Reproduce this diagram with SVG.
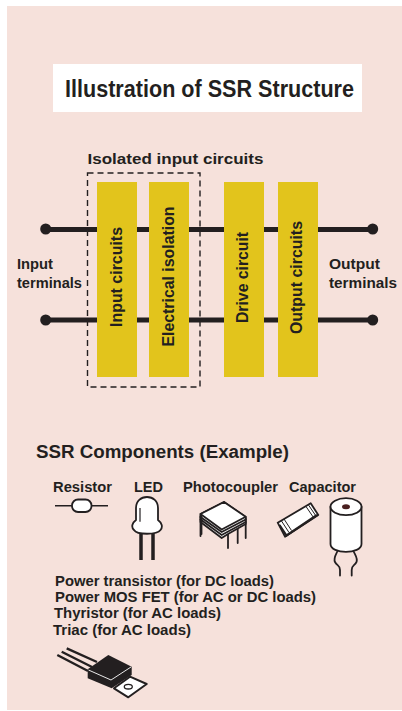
<svg xmlns="http://www.w3.org/2000/svg" width="402" height="711" viewBox="0 0 402 711">
<style>
text{font-family:"Liberation Sans",Arial,sans-serif;font-weight:bold;fill:#231f20}
.l{font-size:15.500px}
.v{font-size:16px;text-anchor:middle}
.b{fill:#e2c41c}
.w{stroke:#231f20;stroke-width:5;fill:none}
.o{fill:#fff;stroke:#231f20;stroke-width:1.800;stroke-linejoin:round}
.k{fill:none;stroke:#231f20;stroke-width:1.800;stroke-linecap:round}
.s{font-size:14.500px}
</style>
<rect x="0" y="0" width="402" height="711" fill="#fff"/>
<rect x="7" y="6" width="395" height="704" fill="#f6e1db"/>
<g id="title"><rect x="53" y="64" width="309" height="48" fill="#fff"/>
<text x="65" y="97" font-size="23.500" textLength="289" lengthAdjust="spacingAndGlyphs">Illustration of SSR Structure</text></g>
<g id="connectors">
<path class="w" d="M46 229.500H373M46 320H373"/>
<circle cx="45.700" cy="229" r="5.500" fill="#231f20"/><circle cx="45.700" cy="320" r="5.500" fill="#231f20"/>
<circle cx="372.700" cy="229" r="5.500" fill="#231f20"/><circle cx="372.700" cy="320" r="5.500" fill="#231f20"/>
</g>
<g id="isolated-group"><rect x="87.500" y="173" width="112.500" height="214" fill="none" stroke="#231f20" stroke-width="1.400" stroke-dasharray="6 4"/>
<text x="87.500" y="164" font-size="15.500" textLength="176" lengthAdjust="spacingAndGlyphs">Isolated input circuits</text></g>
<g id="input-circuits"><rect class="b" x="97" y="182" width="40" height="195"/><text class="v" transform="translate(121.500,277) rotate(-90)" textLength="100" lengthAdjust="spacingAndGlyphs">Input circuits</text></g>
<g id="electrical-isolation"><rect class="b" x="149" y="182" width="40" height="195"/><text class="v" transform="translate(173.500,276.500) rotate(-90)" textLength="140" lengthAdjust="spacingAndGlyphs">Electrical isolation</text></g>
<g id="drive-circuit"><rect class="b" x="224" y="182" width="40" height="195"/><text class="v" transform="translate(247.500,277.500) rotate(-90)" textLength="91" lengthAdjust="spacingAndGlyphs">Drive circuit</text></g>
<g id="output-circuits"><rect class="b" x="278" y="182" width="40" height="195"/><text class="v" transform="translate(301.500,277.500) rotate(-90)" textLength="113" lengthAdjust="spacingAndGlyphs">Output circuits</text></g>
<g id="input-terminals"><text class="l" x="17" y="269" textLength="36" lengthAdjust="spacingAndGlyphs">Input</text><text class="l" x="17" y="288" textLength="65" lengthAdjust="spacingAndGlyphs">terminals</text></g>
<g id="output-terminals"><text class="l" x="329" y="269" textLength="51" lengthAdjust="spacingAndGlyphs">Output</text><text class="l" x="329" y="288" textLength="68" lengthAdjust="spacingAndGlyphs">terminals</text></g>
<text x="36" y="458" font-size="18" textLength="253" lengthAdjust="spacingAndGlyphs">SSR Components (Example)</text>
<g id="resistor"><text class="s" x="53" y="492" textLength="59" lengthAdjust="spacingAndGlyphs">Resistor</text>
<path d="M55 505.700H108" stroke="#231f20" stroke-width="1.500"/><rect class="o" x="72" y="499.500" width="19.500" height="12.500" rx="6"/></g>
<g id="led"><text class="s" x="134" y="492" textLength="29" lengthAdjust="spacingAndGlyphs">LED</text>
<path d="M141 533V560M153 533V560" stroke="#231f20" stroke-width="3.500" fill="none"/>
<path class="o" d="M136 520V508C136 501 141 497 147 497C153 497 158 501 158 508V520C162 523 163 527 160.500 530C157 535 137 535 134 530C131 527 132 523 136 520Z"/>
<path d="M140 508V521.700" stroke="#231f20" stroke-width="1.200"/></g>
<g id="photocoupler"><text class="s" x="183" y="492" textLength="95" lengthAdjust="spacingAndGlyphs">Photocoupler</text>
<path class="k" d="M200.500 516V536M228 528V548M237.700 522V543M245.700 518V538" stroke-width="1.800"/>
<path class="o" d="M200.500 514V522L221.700 538L228 534L245.700 524V517L224 502Z"/>
<path class="k" d="M200.500 517L221.700 532L245.700 519.500M200.500 519.500L221.700 535L245.700 522" stroke-width="1.200"/>
<path class="k" d="M201.500 515V534" stroke-width="1.500"/>
<path class="o" d="M200.500 514L224 502L245.700 516.700L221.700 529.500Z"/></g>
<g id="capacitor-chip"><text class="s" x="289" y="492" textLength="67" lengthAdjust="spacingAndGlyphs">Capacitor</text>
<path class="o" d="M277.700 522.700L310.700 503.300L318.300 515L285 536.700Z" stroke-width="2.400"/>
<path d="M279.500 525L286.500 535.500L317 515" fill="none" stroke="#231f20" stroke-width="2.200"/>
<path d="M281.500 521L289 532.500M284 519L291.500 530.500M306 506.500L313.500 517.500M308.500 505L316 516" fill="none" stroke="#231f20" stroke-width="1"/></g>
<g id="capacitor"><path class="k" d="M338 550C336 555 333 558 335 562C337 566 340 565 340 570V575.500M353 550C355 555 358 558 356.500 562C354.500 566 351.700 565 351.700 570V575.500" stroke-width="2"/>
<path class="o" d="M330.500 506.700V544C330.500 554.500 361.500 554.500 361.500 544V506.700Z" stroke-width="2"/>
<ellipse class="o" cx="346" cy="506.700" rx="15.500" ry="8.500" stroke-width="2"/>
<ellipse cx="346" cy="506.700" rx="4" ry="2.500" fill="#4a1f1f"/></g>
<g id="semiconductors">
<text class="s" x="55" y="586" textLength="219" lengthAdjust="spacingAndGlyphs">Power transistor (for DC loads)</text>
<text class="s" x="55" y="602" textLength="261" lengthAdjust="spacingAndGlyphs">Power MOS FET (for AC or DC loads)</text>
<text class="s" x="54" y="618" textLength="167" lengthAdjust="spacingAndGlyphs">Thyristor (for AC loads)</text>
<text class="s" x="53" y="635" textLength="138" lengthAdjust="spacingAndGlyphs">Triac (for AC loads)</text></g>
<g id="transistor">
<path d="M66.700 648.300L97 662M61.700 651.700L92 667M57.300 655L88 671" stroke="#231f20" stroke-width="2.400" fill="none"/>
<path d="M114 688.300L130 676.700L146.700 684L128.300 697.300Z" fill="#fff" stroke="#231f20" stroke-width="2" stroke-linejoin="round"/>
<ellipse cx="128.300" cy="686.700" rx="4" ry="2.300" fill="none" stroke="#231f20" stroke-width="1.300"/>
<path d="M87.700 669.300L108.300 655L131.700 666.700V675L111.700 688.300L87.700 678.300Z" fill="#231f20"/>
<path d="M88.500 670L111 680L131 667" stroke="#fff" stroke-width="0.900" fill="none"/></g>
</svg>
